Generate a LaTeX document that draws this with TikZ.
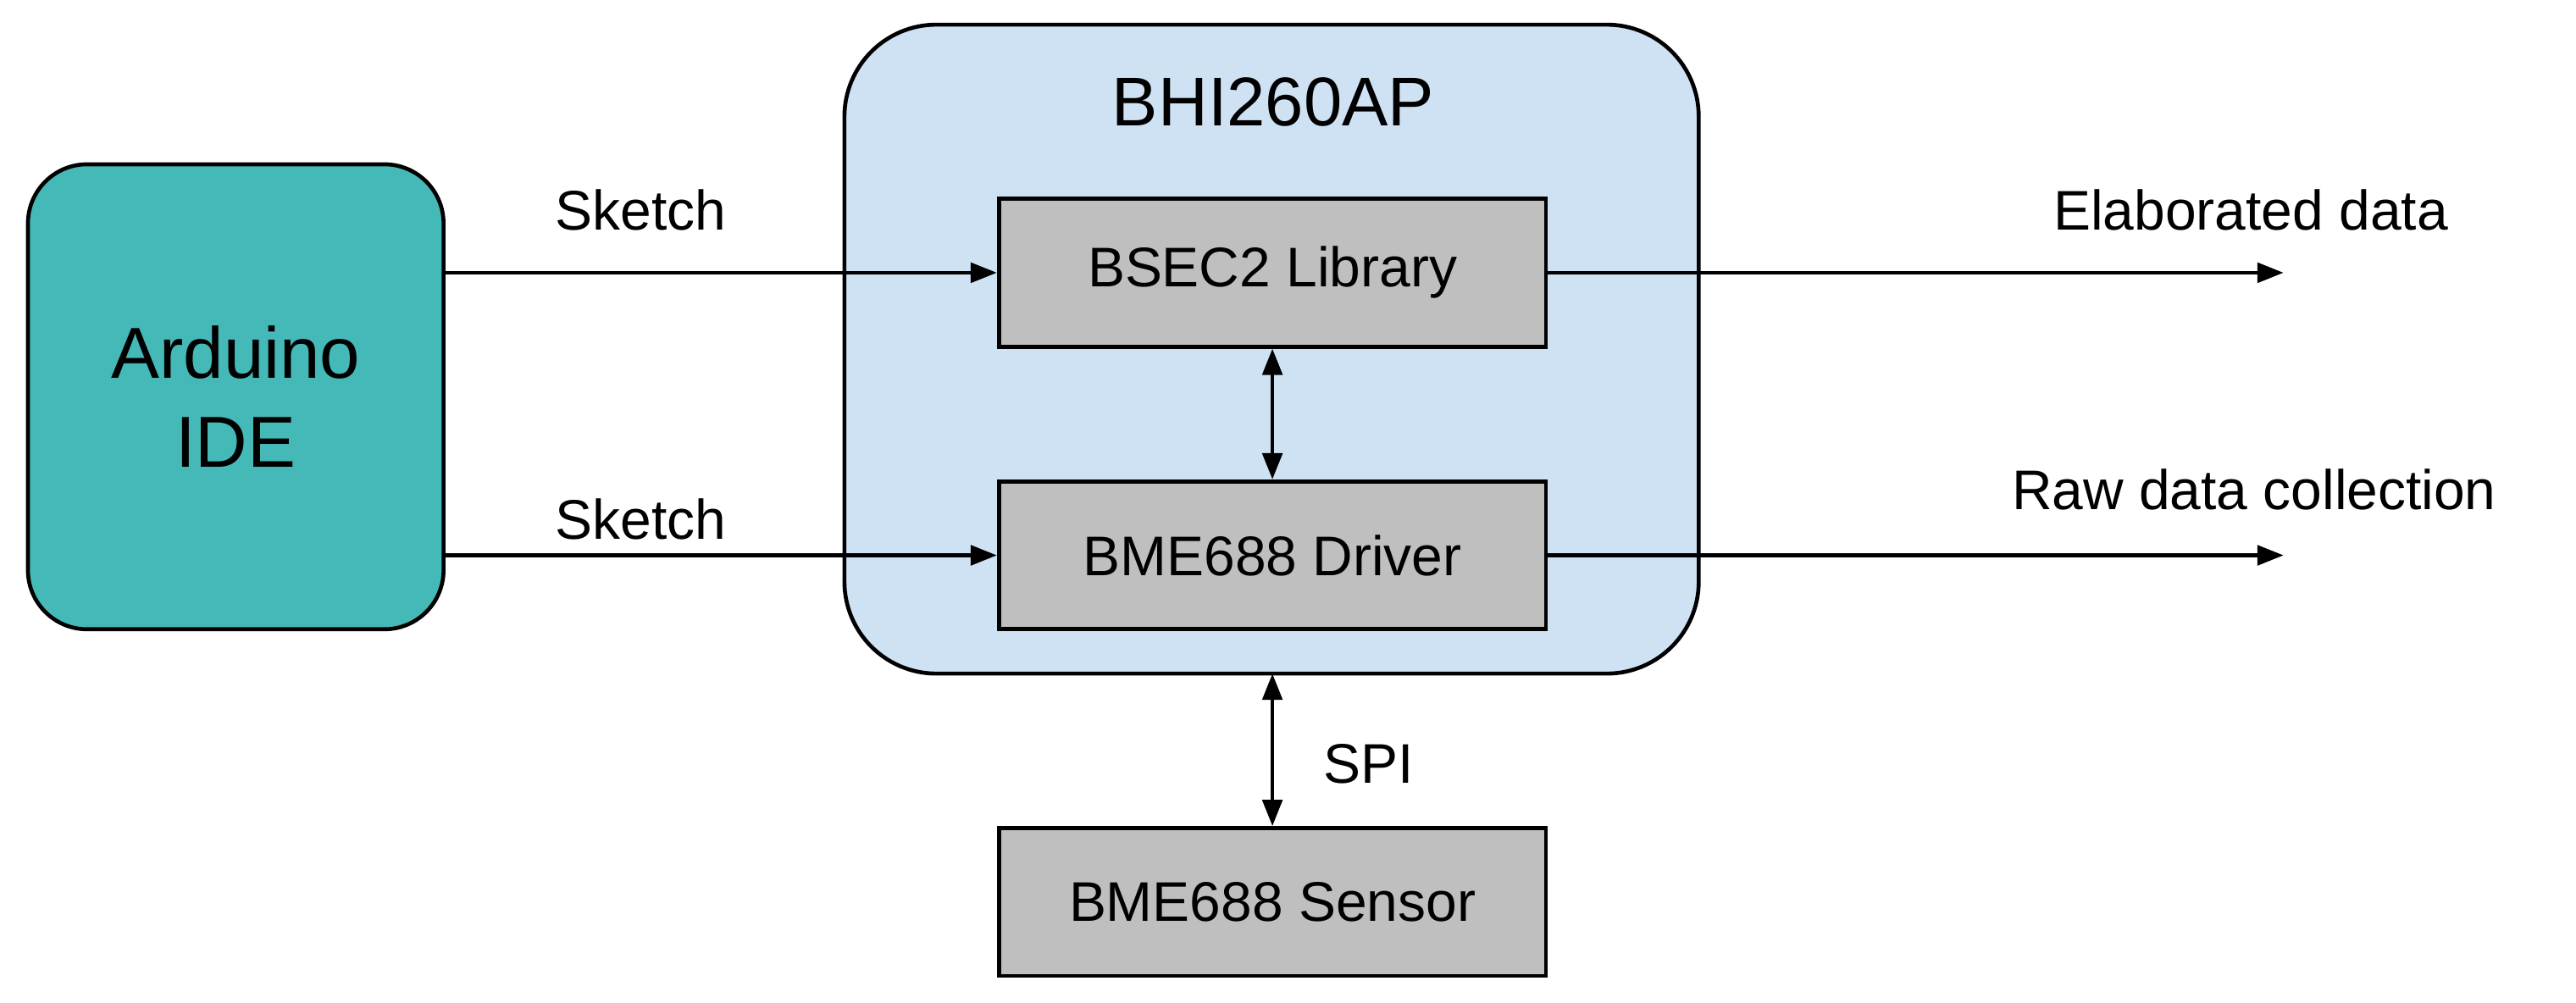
\documentclass[tikz,border=0pt]{standalone}
\usepackage{fontspec}
\setmainfont{Liberation Sans}
\usetikzlibrary{arrows.meta}
\definecolor{teal1}{HTML}{45B8B8}
\definecolor{blue1}{HTML}{CFE2F3}
\definecolor{gray1}{HTML}{BFBFBF}
\begin{document}
\begin{tikzpicture}[x=0.5pt,y=-0.5pt,
  blk/.style={draw=black,line width=1.2pt,fill=gray1,minimum width=166.5pt,minimum height=45pt,font=\fontsize{17}{20}\selectfont},
  arr/.style={-{Triangle[length=8pt,width=6pt]},line width=1.2pt},
  darr/.style={{Triangle[length=8pt,width=6pt]}-{Triangle[length=8pt,width=6pt]},line width=1.2pt},
  lbl/.style={font=\fontsize{17}{20}\selectfont}]
\useasboundingbox (0,0) rectangle (1568,610);
\draw[line width=1.2pt,fill=blue1,rounded corners=28pt] (514,15) rectangle (1034,410);
\node[font=\fontsize{21}{24}\selectfont] (title) at (775,62) {BHI260AP};
\node[draw=black,line width=1.2pt,fill=teal1,rounded corners=18pt,minimum width=126.5pt,minimum height=141.5pt,align=center,font=\fontsize{22}{27}\selectfont] (ard) at (143.5,241.5) {Arduino\\IDE};
\node[blk] (bsec) at (774.5,166) {BSEC2 Library};
\node[blk] (drv) at (774.5,338) {BME688 Driver};
\node[blk] (sen) at (774.5,549) {BME688 Sensor};
\coordinate (bb) at (774.5,410);
\coordinate (o1) at (1390,166);
\coordinate (o2) at (1390,338);
\draw[arr] (270,166) -- (bsec.west);
\draw[arr] (270,338) -- (drv.west);
\node[lbl] (s1) at (390,128) {Sketch};
\node[lbl] (s2) at (390,316) {Sketch};
\draw[darr] (bsec.south) -- (drv.north);
\draw[arr] (bsec.east) -- (o1);
\draw[arr] (drv.east) -- (o2);
\node[lbl] (e) at (1370,128) {Elaborated data};
\node[lbl] (r) at (1372,298) {Raw data collection};
\draw[darr] (bb) -- (sen.north);
\node[lbl] (spi) at (833,465) {SPI};
\end{tikzpicture}
\end{document}
